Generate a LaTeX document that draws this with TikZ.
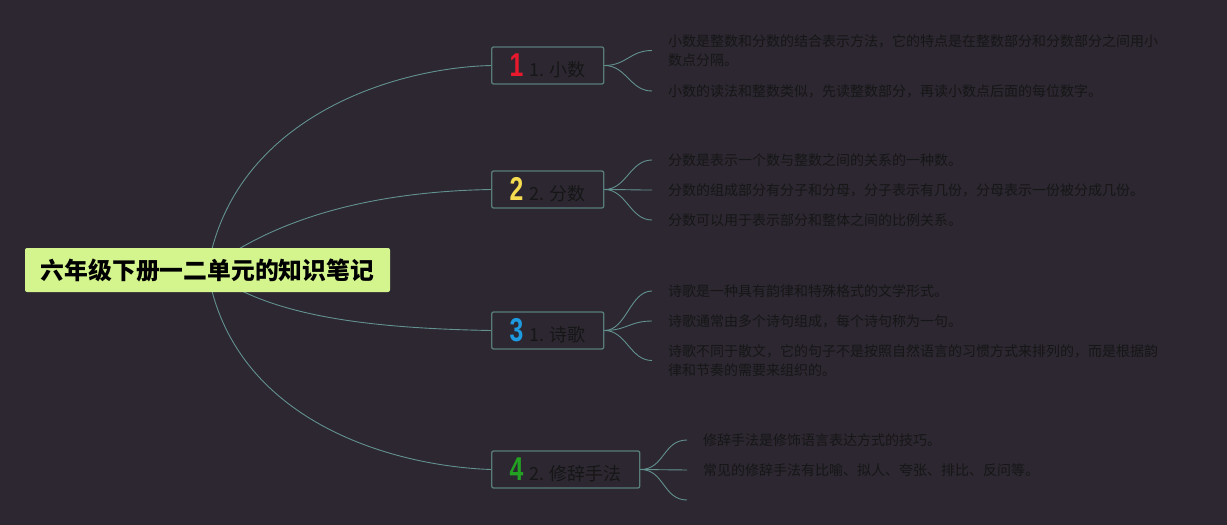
\documentclass[tikz,border=0pt]{standalone}
\usepackage{fontspec}
\usepackage{graphicx}
\usepackage{tikz}
\usetikzlibrary{arrows}
\newfontfamily\cjk{Noto Sans CJK SC}
\newfontfamily\cifra{Liberation Sans}
\definecolor{fondo}{HTML}{2C2731}
\definecolor{verderaiz}{HTML}{D4F58E}
\definecolor{borde}{HTML}{587C7A}
\definecolor{linea}{HTML}{63918F}
\definecolor{texto}{HTML}{161616}
\definecolor{rojo}{HTML}{E8192C}
\definecolor{amarillo}{HTML}{F5DC50}
\definecolor{azul}{HTML}{1E9BE0}
\definecolor{verde}{HTML}{22A122}
\newcommand{\icono}[2]{{\color{#1}\cifra\bfseries\fontsize{33}{33}\selectfont\scalebox{0.75}[1]{#2}}\hspace{6pt}}
\pgfdeclarelayer{capafondo}
\pgfsetlayers{capafondo,main}

\begin{document}
\begin{tikzpicture}[x=1pt,y=-1pt,
    raiz/.style={fill=verderaiz, rounded corners=2pt, minimum width=365, minimum height=44,
        font=\cjk\bfseries\fontsize{23.8}{28}\selectfont, text=black},
    rama/.style={draw=borde, fill=fondo, line width=1.3pt, rounded corners=2pt, anchor=west,
        minimum height=37, inner xsep=18pt, font=\cjk\fontsize{18}{20}\selectfont, text=texto},
    hoja/.style={anchor=west, inner sep=0pt, outer xsep=16pt, align=left,
        font=\cjk\fontsize{14}{19}\selectfont, text=texto},
    enlace/.style={draw=linea, line width=0.9pt}]
    % Fondo
    \begin{pgfonlayer}{capafondo}
    \fill[fondo] (0,0) rectangle (1227,525);
    \end{pgfonlayer}
    \useasboundingbox (0,0) rectangle (1227,525);

    % Tema central
    \node[raiz] (raiz) at (207.5,270) {六年级下册一二单元的知识笔记};

    % Ramas
    \node[rama] (r1) at (491,65.5) {\icono{rojo}{1}1. 小数};
    \node[rama] (r2) at (491,189.5) {\icono{amarillo}{2}2. 分数};
    \node[rama] (r3) at (491,330.5) {\icono{azul}{3}1. 诗歌};
    \node[rama] (r4) at (491,469.5) {\icono{verde}{4}2. 修辞手法};

    % Hojas
    \node[hoja] (h11) at (652,50.5) {小数是整数和分数的结合表示方法，它的特点是在整数部分和分数部分之间用小\\数点分隔。};
    \node[hoja] (h12) at (652,91) {小数的读法和整数类似，先读整数部分，再读小数点后面的每位数字。};
    \node[hoja] (h21) at (652,160) {分数是表示一个数与整数之间的关系的一种数。};
    \node[hoja] (h22) at (652,190) {分数的组成部分有分子和分母，分子表示有几份，分母表示一份被分成几份。};
    \node[hoja] (h23) at (652,220) {分数可以用于表示部分和整体之间的比例关系。};
    \node[hoja] (h31) at (652,291) {诗歌是一种具有韵律和特殊格式的文学形式。};
    \node[hoja] (h32) at (652,321) {诗歌通常由多个诗句组成，每个诗句称为一句。};
    \node[hoja] (h33) at (652,360.5) {诗歌不同于散文，它的句子不是按照自然语言的习惯方式来排列的，而是根据韵\\律和节奏的需要来组织的。};
    \node[hoja] (h41) at (687,440) {修辞手法是修饰语言表达方式的技巧。};
    \node[hoja] (h42) at (687,470) {常见的修辞手法有比喻、拟人、夸张、排比、反问等。};
    \coordinate (h43) at (687,500);

    % Conexiones
    \begin{pgfonlayer}{capafondo}
    \draw[enlace] (raiz.center) .. controls (232,120) and (390,68) .. (r1.west);
    \draw[enlace] (raiz.center) .. controls (262,228) and (350,192) .. (r2.west);
    \draw[enlace] (raiz.center) .. controls (262,312) and (350,328) .. (r3.west);
    \draw[enlace] (raiz.center) .. controls (232,420) and (390,466) .. (r4.west);
    \end{pgfonlayer}
    \foreach \h in {h11,h12}
        \draw[enlace] (r1.east) .. controls +(22,0) and +(-22,0) .. (\h.west);
    \foreach \h in {h21,h22,h23}
        \draw[enlace] (r2.east) .. controls +(22,0) and +(-22,0) .. (\h.west);
    \foreach \h in {h31,h32,h33}
        \draw[enlace] (r3.east) .. controls +(22,0) and +(-22,0) .. (\h.west);
    \foreach \h in {h41.west,h42.west,h43}
        \draw[enlace] (r4.east) .. controls +(24,0) and +(-24,0) .. (\h);
\end{tikzpicture}
\end{document}
